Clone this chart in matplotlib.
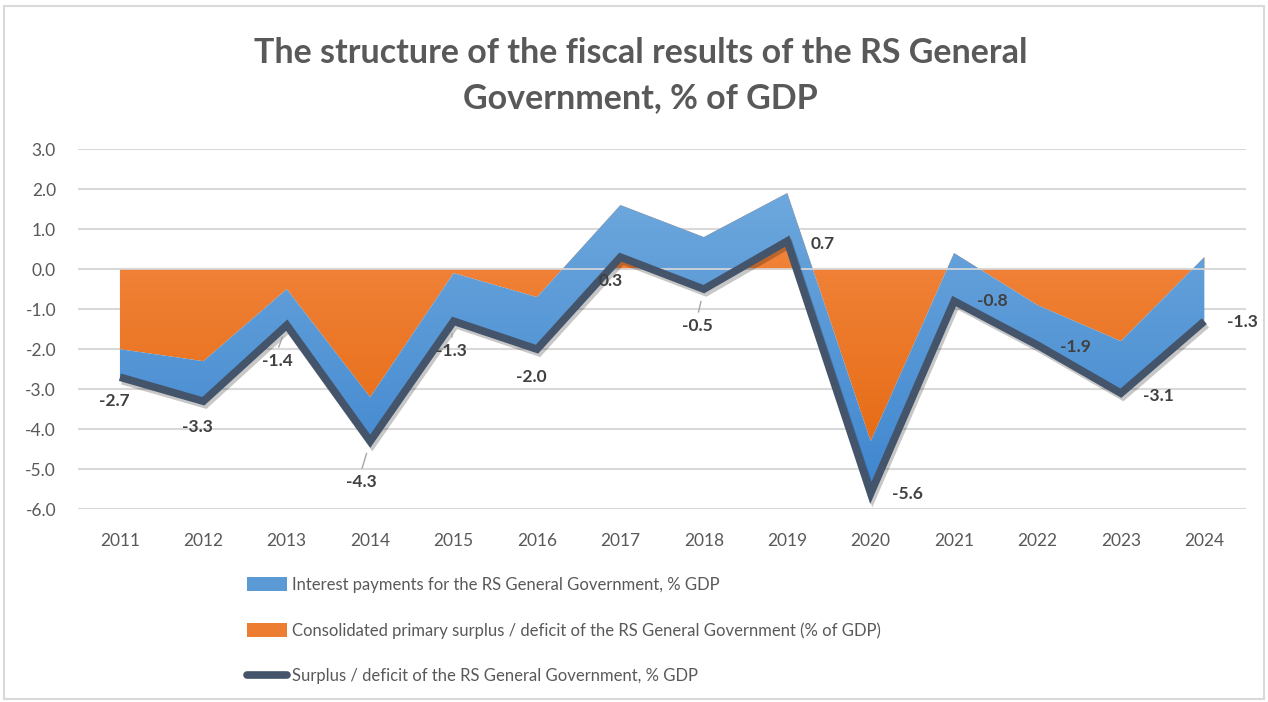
import numpy as np
import matplotlib
matplotlib.use("Agg")
import matplotlib.pyplot as plt
import matplotlib.patheffects as pe
from matplotlib.patches import Rectangle
from matplotlib.lines import Line2D
from matplotlib.patches import Patch

years = ["2011", "2012", "2013", "2014", "2015", "2016", "2017",
         "2018", "2019", "2020", "2021", "2022", "2023", "2024"]
interest = [0.7, 1.0, 0.9, 1.1, 1.2, 1.3, 1.3, 1.3, 1.2, 1.3, 1.2, 1.0, 1.3, 1.6]
primary = [-2.0, -2.3, -0.5, -3.2, -0.1, -0.7, 1.6, 0.8, 1.9, -4.3, 0.4, -0.9, -1.8, 0.3]
overall = [-2.7, -3.3, -1.4, -4.3, -1.3, -2.0, 0.3, -0.5, 0.7, -5.6, -0.8, -1.9, -3.1, -1.3]
yticks = [3.0, 2.0, 1.0, 0.0, -1.0, -2.0, -3.0, -4.0, -5.0, -6.0]

lab_interest = "Interest payments for the RS General Government, % GDP"
lab_primary = "Consolidated primary surplus / deficit of the RS General Government (% of GDP)"
lab_overall = "Surplus / deficit of the RS General Government, % GDP"
title = "The structure of the fiscal results of the RS General\nGovernment, % of GDP"

# label offsets in pixels (dx, dy) relative to the point, and leader flags
label_off = [(-6, -24), (-6, -26), (-9, -36), (-9, -41), (-2, -30), (-6, -28), (-10, -24),
             (-6, -37), (35, -3), (37, -1), (38, 0), (38, -2), (37, -3), (38, -1)]
leader = [False, False, True, True, True, False, False, True,
          False, False, False, False, False, False]

FONT = "Lato"
GRAY = "#595959"
plt.rcParams["font.family"] = [FONT, "DejaVu Sans"]

fig = plt.figure(figsize=(12.68, 7.02), dpi=100)
ax = fig.add_axes([0.0617, 0.2745, 0.921, 0.5132])

x = np.arange(len(years))
ov = np.array(overall)
pr = np.array(primary)
intr = np.array(interest)
lower_blue = pr - intr


def gradient_fill(coll, c_top, c_bot, ytop, ybot, z):
    coll.set_visible(False)
    c1 = np.array(matplotlib.colors.to_rgb(c_top))
    c2 = np.array(matplotlib.colors.to_rgb(c_bot))
    t = np.linspace(0, 1, 256)[:, None]
    img = (c1[None, :] * (1 - t) + c2[None, :] * t)[:, None, :]
    im = ax.imshow(img, extent=[-0.5, len(years) - 0.5, ybot, ytop], aspect="auto",
                   zorder=z, origin="upper", interpolation="bilinear")
    path = coll.get_paths()[0]
    im.set_clip_path(path, transform=ax.transData)


orange = ax.fill_between(x, 0, pr, color="#ED7D31", lw=0, zorder=2)
gradient_fill(orange, "#F48A45", "#E66C15", 2.0, -4.5, 2)
blue = ax.fill_between(x, pr, lower_blue, color="#5B9BD5", lw=0, zorder=3)
gradient_fill(blue, "#6EA8DD", "#3F86CF", 2.0, -5.7, 3)

ax.axhline(0, color="#D9D9D9", lw=1.2, zorder=3.5)

ax.plot(x, ov, color="#44546A", lw=5.5, solid_joinstyle="miter", solid_capstyle="butt",
        zorder=4,
        path_effects=[pe.SimpleLineShadow(offset=(1.5, -2.5), shadow_color="black", alpha=0.22),
                      pe.Normal()])

for i, v in enumerate(ov):
    dx, dy = label_off[i]
    ax.annotate(f"{v:.1f}", xy=(x[i], v), xytext=(dx, dy), textcoords="offset pixels",
                ha="center", va="center", fontsize=12.5, fontweight="bold", color="#404040",
                zorder=6)
    if leader[i]:
        ax.annotate("", xy=(x[i], v), xytext=(dx * 0.9, dy + 14), textcoords="offset pixels",
                    arrowprops=dict(arrowstyle="-", color="#A6A6A6", lw=1,
                                    shrinkA=0, shrinkB=9), zorder=5)

ax.set_xlim(-0.5, len(years) - 0.5)
ax.set_ylim(-6, 3)
ax.set_yticks(yticks)
ax.set_yticklabels([f"{t:.1f}" for t in yticks])
ax.set_xticks(x)
ax.set_xticklabels(years)
ax.grid(axis="y", color="#D9D9D9", lw=1.5, zorder=0)
ax.set_axisbelow(True)
for s in ax.spines.values():
    s.set_visible(False)
ax.tick_params(axis="both", length=0, colors=GRAY, labelsize=12.5)
ax.tick_params(axis="y", pad=16)
ax.tick_params(axis="x", pad=17)

fig.text(0.505, 0.893, title, ha="center", va="center", fontsize=24.5, fontweight="bold",
         color=GRAY, linespacing=1.5)

handles = [Patch(facecolor="#5B9BD5", edgecolor="none"),
           Patch(facecolor="#ED7D31", edgecolor="none"),
           Line2D([0], [0], color="#44546A", lw=5.5, solid_capstyle="round")]
leg = fig.legend(handles, [lab_interest, lab_primary, lab_overall], loc="upper left",
                 bbox_to_anchor=(0.195, 0.178), frameon=False, fontsize=12,
                 handlelength=2.4, handleheight=0.9, handletextpad=0.3, labelspacing=1.75,
                 labelcolor=GRAY, borderaxespad=0, borderpad=0)

fig.patches.append(Rectangle((0.003, 0.004), 0.994, 0.987, transform=fig.transFigure,
                             fill=False, edgecolor="#D9D9D9", lw=1.5))

fig.savefig("out.png", dpi=100)
